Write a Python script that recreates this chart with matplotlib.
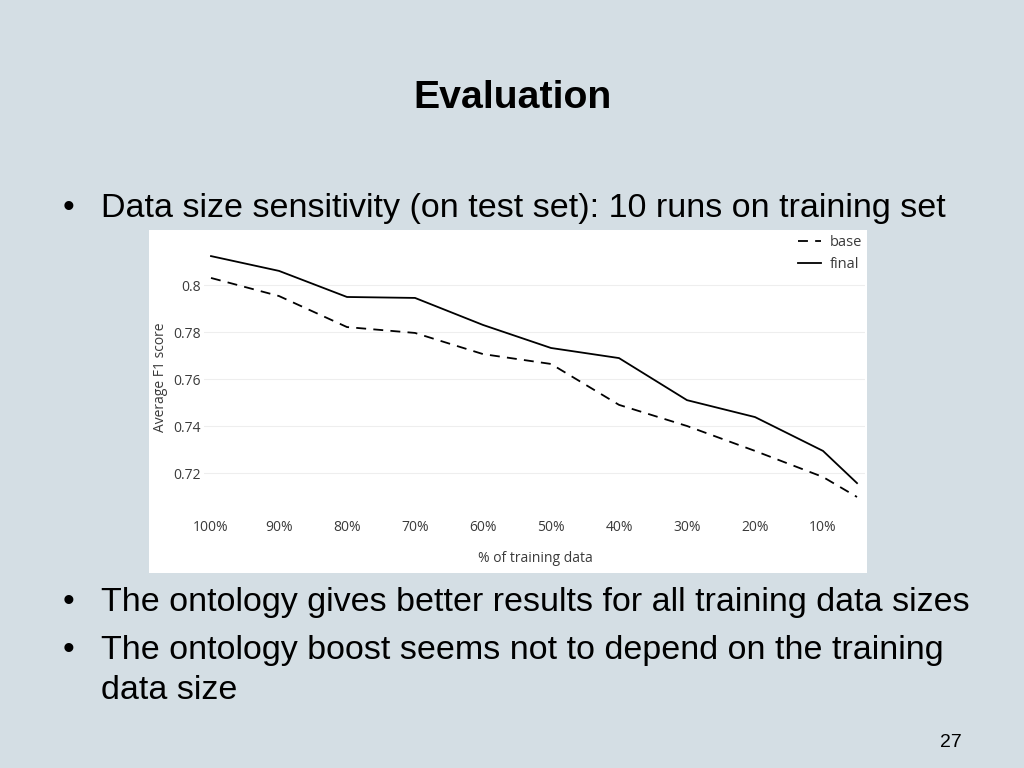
import matplotlib.pyplot as plt
from matplotlib.patches import Rectangle

# Average F1 score per share of training data
train_pct = [100, 90, 80, 70, 60, 50, 40, 30, 20, 10, 5]
base_f1 = [0.8030, 0.7953, 0.7821, 0.7796, 0.7706, 0.7664, 0.7490, 0.7400, 0.7294, 0.7183, 0.7098]
final_f1 = [0.8123, 0.8060, 0.7949, 0.7945, 0.7830, 0.7732, 0.7689, 0.7510, 0.7438, 0.7294, 0.7157]
x_ticks = [100, 90, 80, 70, 60, 50, 40, 30, 20, 10]
y_ticks = [0.72, 0.74, 0.76, 0.78, 0.80]
y_ticklabels = ['0.72', '0.74', '0.76', '0.78', '0.8']

bullets_top = ['Data size sensitivity (on test set): 10 runs on training set']
bullets_bottom = ['The ontology gives better results for all training data sizes',
                  'The ontology boost seems not to depend on the training']
W, H = 1024, 768
slide_bg = '#d4dee4'

fig = plt.figure(figsize=(W / 100, H / 100), dpi=100)
fig.patch.set_facecolor(slide_bg)

def fx(px):
    return px / W

def fy(py):
    return 1 - py / H

# slide text (Arial-like)
sans = 'Liberation Sans'
fig.text(fx(512), fy(108), 'Evaluation', family=sans, fontsize=28.3,
         fontweight='bold', ha='center', va='baseline', color='black')

fig.text(fx(68), fy(217), '•', family=sans, fontsize=24, ha='center', va='baseline')
fig.text(fx(101), fy(217), bullets_top[0], family=sans, fontsize=24.5,
         ha='left', va='baseline', color='black')
for base_y, line in zip([611, 659], bullets_bottom):
    fig.text(fx(68), fy(base_y), '•', family=sans, fontsize=24, ha='center', va='baseline')
    fig.text(fx(101), fy(base_y), line, family=sans, fontsize=24.5,
             ha='left', va='baseline', color='black')
fig.text(fx(101), fy(699), 'data size', family=sans, fontsize=24.5,
         ha='left', va='baseline', color='black')
fig.text(fx(951), fy(747), '27', family=sans, fontsize=14,
         ha='center', va='baseline', color='black')

# white chart panel, behind the axes
fig.patches.append(Rectangle((fx(149), fy(573)), fx(867) - fx(149), fy(230) - fy(573),
                             transform=fig.transFigure, facecolor='white',
                             edgecolor='none', zorder=-5))

# plot area
ax_l, ax_r, ax_t, ax_b = 204, 865, 245, 512
ax = fig.add_axes([fx(ax_l), fy(ax_b), fx(ax_r) - fx(ax_l), fy(ax_t) - fy(ax_b)])
ax.set_facecolor('none')

chart_font = 'Open Sans'
ax.plot(train_pct, base_f1, color='black', lw=1.3, dashes=(5.5, 4), label='base')
ax.plot(train_pct, final_f1, color='black', lw=1.3, label='final')

# 0.8 at y=285 px, 0.72 at y=473 px
px_per_unit = (473 - 285) / 0.08
ax.set_ylim(0.72 - (ax_b - 473) / px_per_unit, 0.80 + (285 - ax_t) / px_per_unit)
# 100% at x=211 px, 5% at x=857 px
px_per_pct = (857 - 211) / 95
ax.set_xlim(100 + (211 - ax_l) / px_per_pct, 5 - (ax_r - 857) / px_per_pct)

ax.set_xticks(x_ticks)
ax.set_xticklabels([f'{v}%' for v in x_ticks])
ax.set_yticks(y_ticks)
ax.set_yticklabels(y_ticklabels)
ax.tick_params(length=0, labelsize=10, labelcolor='#3a3a3a')
ax.tick_params(axis='x', pad=5.5)
ax.tick_params(axis='y', pad=2)
for lab in ax.get_xticklabels() + ax.get_yticklabels():
    lab.set_family(chart_font)
ax.grid(axis='y', color='#eeeeee', lw=0.8)
ax.set_axisbelow(True)
for s in ax.spines.values():
    s.set_visible(False)

fig.text(fx(161), fy(377), 'Average F1 score', family=chart_font, fontsize=10,
         rotation=90, ha='center', va='center', color='#3a3a3a')
fig.text(fx(535), fy(559), '% of training data', family=chart_font, fontsize=10,
         ha='center', va='center', color='#3a3a3a')

ax.legend(loc='upper left', bbox_to_anchor=(fx(798), fy(235.5)), bbox_transform=fig.transFigure,
          frameon=False, borderpad=0, borderaxespad=0, handlelength=1.6,
          handletextpad=0.55, labelspacing=0.45,
          prop={'family': chart_font, 'size': 10.5}, labelcolor='#3a3a3a')

fig.savefig('out.png', dpi=100, facecolor=slide_bg)
